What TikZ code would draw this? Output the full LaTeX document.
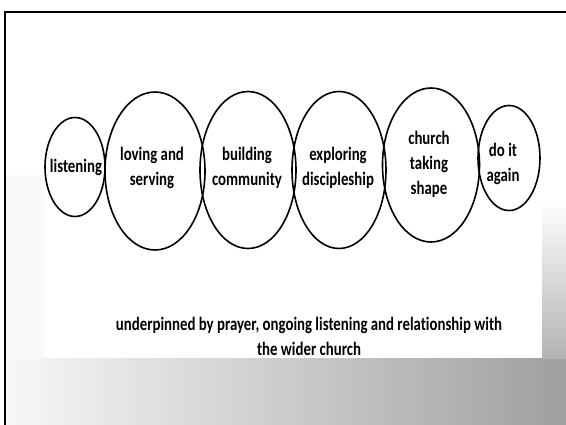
\documentclass[tikz,border=0pt]{standalone}
\usepackage{fontspec}
\setmainfont{Carlito}[FakeStretch=0.78,Ligatures=NoCommon]
\usetikzlibrary{shapes.geometric}

\tikzset{
  stage/.style={ellipse,draw,line width=1.6pt,inner sep=0pt},
  note/.style={align=center,font=\fontsize{19}{25}\selectfont\bfseries}
}

\begin{document}
\begin{tikzpicture}[x=1pt,y=-1pt]
        \useasboundingbox (0,0) rectangle (566,425);
        % scanned background
        \shade[left color=gray!6,right color=gray!75] (6,359) rectangle (566,425);
        \shade[top color=white,bottom color=gray!60] (542,200) rectangle (566,359);
        \fill[gray!5] (6,175) rectangle (44,359);
        \draw[line width=1.6pt] (566,12) -- (5,12) -- (5,425);
        % the stages
        \node[stage,minimum width=60,minimum height=99] (s0) at (75,167) {};
        \node[stage,minimum width=100,minimum height=158] (s1) at (155,171) {};
        \node[stage,minimum width=96,minimum height=157] (s2) at (248,170) {};
        \node[stage,minimum width=94,minimum height=157] (s3) at (339,170) {};
        \node[stage,minimum width=97,minimum height=154] (s4) at (431,165) {};
        \node[stage,minimum width=62,minimum height=105] (s5) at (509,158) {};
        \node[note] (t0) at (76,167) {listening};
        \node[note] (t1) at (152,168) {loving and\\serving};
        \node[note] (t2) at (247,168) {building\\community};
        \node[note] (t3) at (338,168) {exploring\\discipleship};
        \node[note] (t4) at (429,164) {church\\taking\\shape};
        \node[note] (t5) at (503,164) {do it\\again};
        \node[note] (u) at (309,336) {underpinned by prayer, ongoing listening and relationship with\\the wider church};
        \end{tikzpicture}
\end{document}
